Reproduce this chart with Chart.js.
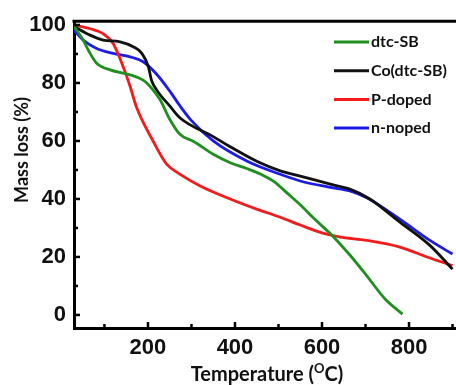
<!DOCTYPE html>
<html>
<head>
<meta charset="utf-8">
<script src="https://cdn.jsdelivr.net/npm/chart.js@4.4.1/dist/chart.umd.min.js"></script>
<style>
html,body{margin:0;padding:0;background:#fff;}
canvas{display:block;}
</style>
</head>
<body>
<canvas id="c" width="456" height="385"></canvas>
<script>
// Series: temperature (°C) and mass (%)
const dtcTemps = [30, 51, 67, 82, 113, 159, 189, 205, 228, 250, 274, 304, 350, 389, 427, 460, 490, 520, 550, 580, 626, 665, 703, 745, 785];
const dtcMass  = [99.5, 94.8, 90.2, 86.8, 84.5, 82.8, 81, 78.8, 74.2, 67.5, 62.2, 59.9, 55.4, 52.5, 50.5, 48.5, 46, 42, 38, 33.5, 27, 20.5, 13.5, 5.5, 0.3];

const coTemps = [30, 67, 97, 136, 166, 186, 201, 208, 220, 251, 274, 350, 389, 450, 504, 550, 619, 664, 710, 779, 848, 900];
const coMass  = [99.5, 96.5, 94.8, 94.2, 92.5, 90.2, 85.6, 81, 77.6, 71.9, 67.9, 61.5, 58, 53, 49.7, 47.9, 45.1, 43.4, 40, 32, 24, 15.8];

const pTemps = [30, 67, 97, 120, 143, 159, 174, 212, 243, 274, 320, 389, 450, 504, 550, 600, 640, 703, 779, 841, 900];
const pMass  = [100, 98.7, 97, 93.6, 85.6, 78.8, 71.5, 59.9, 52, 48.5, 44.5, 40, 36.5, 33.7, 31, 28.3, 26.9, 25.7, 23.4, 20, 17];

const nTemps = [30, 51, 82, 120, 159, 189, 220, 251, 274, 300, 350, 427, 504, 550, 619, 664, 703, 779, 848, 900];
const nMass  = [98.2, 94.8, 91.9, 90.2, 89, 87.3, 83, 77, 72, 67, 60, 53.1, 48.5, 46.2, 44, 42.8, 40.4, 33, 25.7, 21];

const seriesNames = ['dtc-SB', 'Co(dtc-SB)', 'P-doped', 'n-noped'];
const seriesColors = ['#1f8f1f', '#111111', '#f21c1c', '#1c1ce6'];

const xTickLabels = [200, 400, 600, 800];
const xTickMarks = [100, 200, 300, 400, 500, 600, 700, 800, 900];
const yTickLabels = [0, 20, 40, 60, 80, 100];
const yTickMarks = [0, 10, 20, 30, 40, 50, 60, 70, 80, 90, 100];

const xTitle = ['Temperature (', 'O', 'C)'];
const yTitle = 'Mass loss (%)';

function pts(t, v) { return t.map((x, i) => ({x: x, y: v[i]})); }
const allSeries = [pts(dtcTemps, dtcMass), pts(coTemps, coMass), pts(pTemps, pMass), pts(nTemps, nMass)];

const decor = {
  id: 'decor',
  afterDraw(chart) {
    const ctx = chart.ctx, a = chart.chartArea;
    const xs = chart.scales.x, ys = chart.scales.y;
    ctx.save();
    ctx.strokeStyle = '#000';
    // top frame line
    ctx.lineWidth = 3;
    ctx.beginPath();
    ctx.moveTo(a.left - 1.5, a.top);
    ctx.lineTo(a.right, a.top);
    ctx.stroke();
    // inward ticks
    ctx.lineWidth = 2.5;
    xTickMarks.forEach(v => {
      const px = xs.getPixelForValue(v);
      const len = (v % 200 === 0) ? 6 : 4;
      ctx.beginPath();
      ctx.moveTo(px, a.bottom);
      ctx.lineTo(px, a.bottom - len);
      ctx.stroke();
    });
    yTickMarks.forEach(v => {
      const py = ys.getPixelForValue(v);
      const len = (v % 20 === 0) ? 6 : 4;
      ctx.beginPath();
      ctx.moveTo(a.left, py);
      ctx.lineTo(a.left + len, py);
      ctx.stroke();
    });
    // legend
    ctx.font = 'bold 16px Lato, "Open Sans", sans-serif';
    ctx.textBaseline = 'middle';
    ctx.textAlign = 'left';
    chart.data.datasets.forEach((ds, i) => {
      const y = 42 + i * 28.7;
      ctx.strokeStyle = ds.borderColor;
      ctx.lineWidth = 3;
      ctx.beginPath();
      ctx.moveTo(334, y);
      ctx.lineTo(369, y);
      ctx.stroke();
      ctx.fillStyle = '#111';
      ctx.fillText(ds.label, 371, y);
    });
    // y title
    ctx.fillStyle = '#111';
    ctx.font = 'bold 18px Lato, "Open Sans", sans-serif';
    ctx.save();
    ctx.translate(22, 150);
    ctx.rotate(-Math.PI / 2);
    ctx.textAlign = 'center';
    ctx.textBaseline = 'middle';
    ctx.fillText(yTitle, 0, 0);
    ctx.restore();
    // x title with superscript
    const big = 'bold 20px Lato, "Open Sans", sans-serif';
    const small = 'bold 13px Lato, "Open Sans", sans-serif';
    ctx.font = big; const w1 = ctx.measureText(xTitle[0]).width; const w3 = ctx.measureText(xTitle[2]).width;
    ctx.font = small; const w2 = ctx.measureText(xTitle[1]).width;
    let x0 = 267 - (w1 + w2 + w3) / 2;
    const base = 381;
    ctx.textAlign = 'left';
    ctx.textBaseline = 'alphabetic';
    ctx.font = big; ctx.fillText(xTitle[0], x0, base);
    ctx.font = small; ctx.fillText(xTitle[1], x0 + w1, base - 8);
    ctx.font = big; ctx.fillText(xTitle[2], x0 + w1 + w2, base);
    ctx.restore();
  }
};

new Chart(document.getElementById('c'), {
  type: 'line',
  data: {
    datasets: allSeries.map((d, i) => ({
      label: seriesNames[i],
      data: d,
      borderColor: seriesColors[i],
      backgroundColor: seriesColors[i],
      borderWidth: 2.8,
      pointRadius: 0,
      fill: false,
      cubicInterpolationMode: 'monotone'
    }))
  },
  options: {
    responsive: false,
    devicePixelRatio: 1,
    animation: false,
    layout: { padding: { top: 19, right: 0, left: 0, bottom: 0 } },
    plugins: { legend: { display: false }, tooltip: { enabled: false } },
    scales: {
      x: {
        type: 'linear',
        min: 30, max: 908,
        afterFit(s) { s.height = 57; },
        afterBuildTicks(s) { s.ticks = xTickLabels.map(v => ({value: v})); },
        grid: { display: false, drawTicks: false },
        border: { display: true, color: '#000', width: 3 },
        ticks: {
          padding: 7,
          color: '#111',
          font: { family: '"Liberation Sans", Arial, sans-serif', size: 22, weight: 'bold' }
        }
      },
      y: {
        type: 'linear',
        min: -4.5, max: 101.3,
        afterFit(s) { s.width = 74; },
        afterBuildTicks(s) { s.ticks = yTickLabels.map(v => ({value: v})); },
        grid: { display: false, drawTicks: false },
        border: { display: true, color: '#000', width: 3 },
        ticks: {
          padding: 8,
          color: '#111',
          font: { family: '"Liberation Sans", Arial, sans-serif', size: 22, weight: 'bold' }
        }
      }
    }
  },
  plugins: [decor]
});
</script>
</body>
</html>
